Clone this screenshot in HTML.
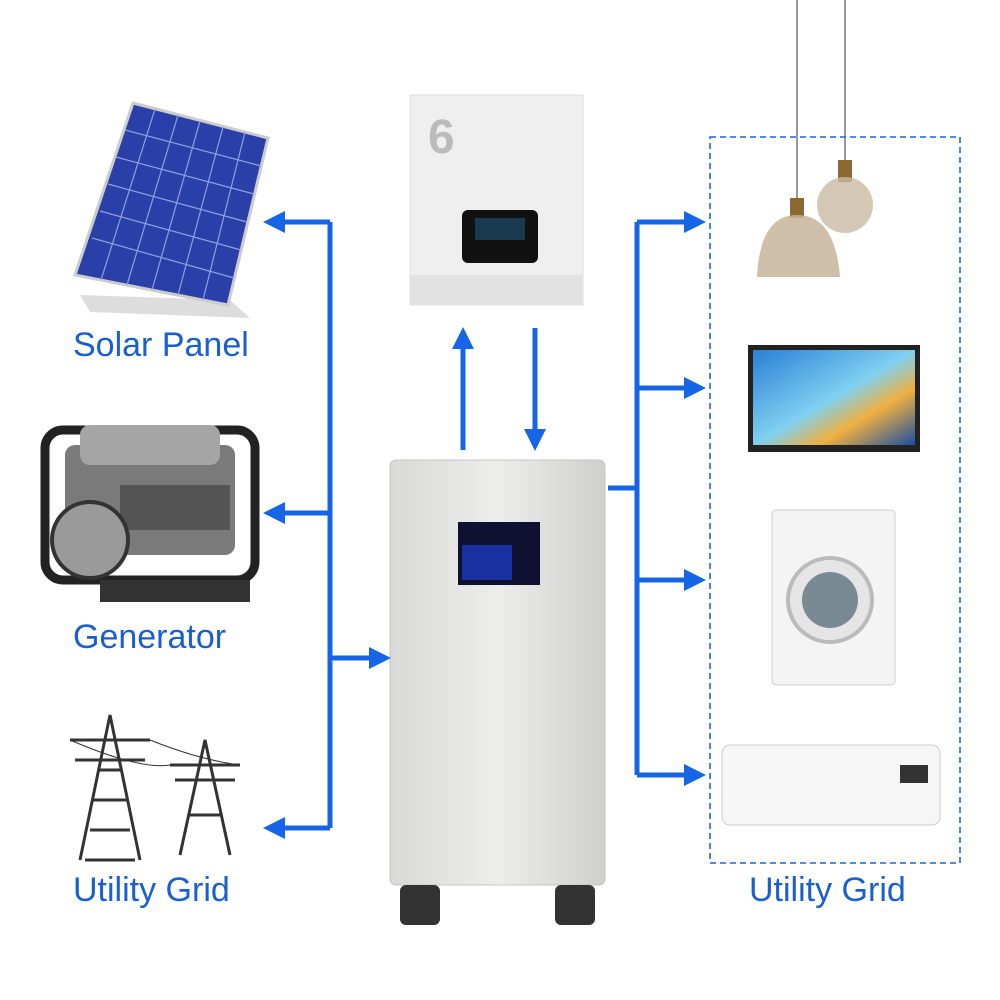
<!DOCTYPE html>
<html><head><meta charset="utf-8"><style>
html,body{margin:0;padding:0;background:#fff;}
.lbl{position:absolute;font-family:"Liberation Sans",sans-serif;font-size:34px;color:#1a5fd0;white-space:nowrap;}
</style></head><body>
<div style="position:relative;width:1000px;height:1000px;overflow:hidden;">
<svg width="1000" height="1000" viewBox="0 0 1000 1000" style="position:absolute;left:0;top:0">
<defs>
<marker id="ah" markerWidth="4.4" markerHeight="4.4" refX="2.2" refY="2.2" orient="auto" markerUnits="strokeWidth">
<path d="M0,0 L4.4,2.2 L0,4.4 z" fill="#1565e6"/></marker>
<linearGradient id="cab" x1="0" x2="1"><stop offset="0" stop-color="#d9d9d7"/><stop offset="0.5" stop-color="#ededeb"/><stop offset="1" stop-color="#cfcfcd"/></linearGradient>
<linearGradient id="tv" x1="0" x2="1" y1="0" y2="1"><stop offset="0" stop-color="#2a7fd6"/><stop offset="0.5" stop-color="#7fd0f0"/><stop offset="0.7" stop-color="#f0b040"/><stop offset="1" stop-color="#1a4fa0"/></linearGradient>
</defs>
<!-- solar panel -->
<polygon points="90,312 250,318 230,300 80,295" fill="#ddd"/>
<polygon points="133,103 268,138 228,305 75,275" fill="#2b3fa8" stroke="#ccc" stroke-width="3"/>
<g stroke="#8fa0e0" stroke-width="1.2">
<line x1="155" y1="109" x2="101" y2="280"/><line x1="178" y1="115" x2="127" y2="285"/><line x1="200" y1="121" x2="152" y2="290"/><line x1="223" y1="127" x2="178" y2="295"/><line x1="245" y1="132" x2="203" y2="300"/>
<line x1="125" y1="130" x2="261" y2="166"/><line x1="116" y1="157" x2="254" y2="194"/><line x1="108" y1="184" x2="247" y2="222"/><line x1="100" y1="211" x2="241" y2="250"/><line x1="92" y1="238" x2="234" y2="278"/>
</g>
<!-- generator -->
<rect x="45" y="430" width="210" height="150" rx="18" fill="none" stroke="#222" stroke-width="9"/>
<rect x="65" y="445" width="170" height="110" rx="10" fill="#7a7a7a"/>
<rect x="80" y="425" width="140" height="40" rx="10" fill="#a5a5a5"/>
<rect x="120" y="485" width="110" height="45" fill="#555"/>
<circle cx="90" cy="540" r="38" fill="#9a9a9a" stroke="#333" stroke-width="4"/>
<rect x="100" y="580" width="150" height="22" fill="#333"/>
<!-- towers -->
<g stroke="#333" stroke-width="3" fill="none">
<path d="M80,860 L110,715 L140,860 M92,800 L128,800 M98,770 L122,770 M70,740 L150,740 M75,760 L145,760 M90,830 L130,830 M85,860 L135,860"/>
<path d="M180,855 L205,740 L230,855 M170,765 L240,765 M175,780 L235,780 M190,815 L220,815"/>
<path d="M70,740 Q140,770 170,765 M150,740 Q200,760 240,765" stroke-width="1"/>
</g>
<!-- inverter -->
<rect x="410" y="95" width="173" height="210" fill="#efefef" stroke="#ddd"/>
<rect x="410" y="275" width="173" height="30" fill="#e2e2e2"/>
<rect x="462" y="210" width="76" height="53" rx="6" fill="#111"/>
<rect x="475" y="218" width="50" height="22" fill="#1a3a50"/>
<!-- battery cabinet -->
<rect x="390" y="460" width="215" height="425" rx="6" fill="url(#cab)" stroke="#c5c5c5"/>
<rect x="458" y="522" width="82" height="63" fill="#101030"/>
<rect x="462" y="545" width="50" height="35" fill="#1830a0"/>
<rect x="400" y="885" width="40" height="40" rx="6" fill="#333"/>
<rect x="555" y="885" width="40" height="40" rx="6" fill="#333"/>
<!-- lamps -->
<line x1="797" y1="0" x2="797" y2="200" stroke="#333"/>
<line x1="845" y1="0" x2="845" y2="165" stroke="#333"/>
<rect x="838" y="160" width="14" height="22" fill="#8a6a30"/>
<circle cx="845" cy="205" r="28" fill="#c9b9a3" opacity="0.8"/>
<rect x="790" y="198" width="14" height="20" fill="#8a6a30"/>
<path d="M757,277 Q760,215 797,215 Q835,215 840,277 z" fill="#c7b49a" opacity="0.85"/>
<!-- TV -->
<rect x="748" y="345" width="172" height="107" fill="#222"/>
<rect x="753" y="350" width="162" height="95" fill="url(#tv)"/>
<!-- washer -->
<rect x="772" y="510" width="123" height="175" rx="4" fill="#f4f4f4" stroke="#ccc"/>
<circle cx="830" cy="600" r="42" fill="#e5e5e5" stroke="#bbb" stroke-width="4"/>
<circle cx="830" cy="600" r="28" fill="#7a8a95"/>
<!-- AC -->
<rect x="722" y="745" width="218" height="80" rx="8" fill="#f6f6f6" stroke="#ccc"/>
<rect x="900" y="765" width="28" height="18" fill="#333"/>
<!-- dashed box -->
<rect x="710" y="137" width="250" height="726" fill="none" stroke="#1565e6" stroke-width="1.6" stroke-dasharray="6,4"/>
<!-- connectors -->
<g stroke="#1565e6" stroke-width="5" fill="none">
<path d="M330,222 V828"/>
<line x1="330" y1="222" x2="274" y2="222" marker-end="url(#ah)"/>
<line x1="330" y1="513" x2="274" y2="513" marker-end="url(#ah)"/>
<line x1="330" y1="828" x2="274" y2="828" marker-end="url(#ah)"/>
<line x1="330" y1="658" x2="380" y2="658" marker-end="url(#ah)"/>
<line x1="463" y1="450" x2="463" y2="338" marker-end="url(#ah)"/>
<line x1="535" y1="328" x2="535" y2="440" marker-end="url(#ah)"/>
<path d="M608,488 H637 M637,222 V775"/>
<line x1="637" y1="222" x2="695" y2="222" marker-end="url(#ah)"/>
<line x1="637" y1="388" x2="695" y2="388" marker-end="url(#ah)"/>
<line x1="637" y1="580" x2="695" y2="580" marker-end="url(#ah)"/>
<line x1="637" y1="775" x2="695" y2="775" marker-end="url(#ah)"/>
</g>
</svg>
<div class="lbl" style="left:428px;top:110px;font-size:48px;font-weight:bold;color:#bbb">6</div>
<div class="lbl" style="left:73px;top:326px">Solar Panel</div>
<div class="lbl" style="left:73px;top:618px">Generator</div>
<div class="lbl" style="left:73px;top:871px">Utility Grid</div>
<div class="lbl" style="left:749px;top:871px">Utility Grid</div>
</div>
</body></html>
